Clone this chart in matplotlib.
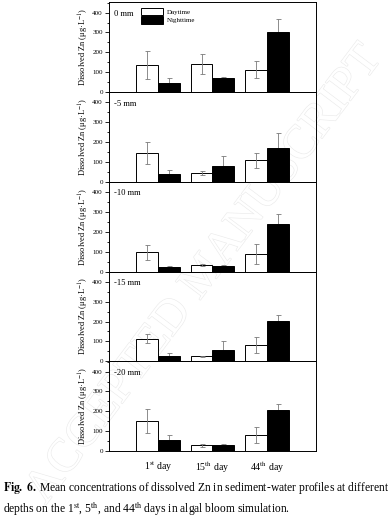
import numpy as np
import matplotlib
matplotlib.use('Agg')
import matplotlib.pyplot as plt
import matplotlib.patheffects as pe
from matplotlib.ticker import MultipleLocator

plt.rcParams['font.family'] = 'Liberation Serif'
plt.rcParams['mathtext.fontset'] = 'stix'

# Data (dissolved Zn, ug/L)
days = ['1$^{\\rm st}$ day', '15$^{\\rm th}$ day', '44$^{\\rm th}$ day']
depths = ['0 mm', '-5 mm', '-10 mm', '-15 mm', '-20 mm']

day_mean = [[135, 140, 113],
            [145, 45, 108],
            [97, 33, 87],
            [113, 24, 80],
            [150, 28, 80]]
day_err = [[70, 50, 43],
           [55, 10, 37],
           [38, 7, 50],
           [22, 2, 40],
           [60, 8, 40]]
night_mean = [[43, 68, 302],
              [37, 77, 172],
              [25, 29, 240],
              [27, 58, 205],
              [55, 30, 207]]
night_err = [[27, 10, 68],
             [22, 53, 73],
             [5, 3, 48],
             [13, 42, 30],
             [25, 6, 30]]

fig = plt.figure(figsize=(3.92, 5.19), dpi=100)
W, H = 392.0, 519.0

# faint watermark behind everything
fig.text(205 / W, 1 - 275 / H, 'ACCEPTED MANUSCRIPT', rotation=53,
         ha='center', va='center', fontsize=34, color='white', zorder=-5,
         path_effects=[pe.withStroke(linewidth=0.9, foreground='#ebebeb')])

x = np.arange(1, 4)
w = 0.4
left, right = 109, 316
panel_h = 89.75

for i in range(5):
    bottom_px = 92 + panel_h * i
    ax = fig.add_axes([left / W, 1 - bottom_px / H, (right - left) / W, panel_h / H])
    ax.set_facecolor('none')

    ax.errorbar(x - w / 2, day_mean[i], yerr=day_err[i], fmt='none',
                ecolor='#7a7a7a', elinewidth=0.6, capsize=1.8, capthick=0.6, zorder=3)
    ax.bar(x - w / 2, day_mean[i], w, color='white', edgecolor='black', lw=0.7,
           label='Daytime', zorder=2)
    ax.errorbar(x + w / 2, night_mean[i], yerr=night_err[i], fmt='none',
                ecolor='#7a7a7a', elinewidth=0.6, capsize=1.8, capthick=0.6, zorder=1)
    ax.bar(x + w / 2, night_mean[i], w, color='black', edgecolor='black', lw=0.7,
           label='Nighttime', zorder=2)

    ax.set_xlim(0.1, 3.9)
    ax.set_ylim(0, 452)
    ax.yaxis.set_major_locator(MultipleLocator(100))
    ax.yaxis.set_minor_locator(MultipleLocator(50))
    ax.tick_params(axis='y', which='major', direction='out', length=3, width=0.6,
                   labelsize=5, pad=1.5)
    ax.tick_params(axis='y', which='minor', direction='out', length=1.5, width=0.6)
    for s in ax.spines.values():
        s.set_linewidth(0.7)
    ax.set_ylabel('Dissolved Zn (μg·L$^{-1}$)', fontsize=6, labelpad=1)
    ax.text(0.025, 0.87, depths[i], transform=ax.transAxes, fontsize=6.2,
            ha='left', va='center')

    if i == 4:
        ax.set_xticks(x)
        ax.set_xticklabels(days, fontsize=7)
        ax.tick_params(axis='x', length=0, pad=6)
    else:
        ax.set_xticks([])

    if i == 0:
        ax.legend(loc='upper left', bbox_to_anchor=(0.14, 0.97), fontsize=5,
                  frameon=False, handlelength=3.2, handleheight=1.3,
                  labelspacing=0.1, handletextpad=0.6, borderaxespad=0)

# caption
fig.text(3 / W, 1 - 487 / H,
         r'$\bf{Fig.\ 6.}$ Mean concentrations of dissolved Zn in sediment-water profiles at different',
         fontsize=8.3, ha='left', va='center')
fig.text(3 / W, 1 - 509 / H,
         'depths on the 1$^{\\rm st}$, 5$^{\\rm th}$, and 44$^{\\rm th}$ days in algal bloom simulation.',
         fontsize=8.3, ha='left', va='center')

fig.savefig('out.png', dpi=100)
